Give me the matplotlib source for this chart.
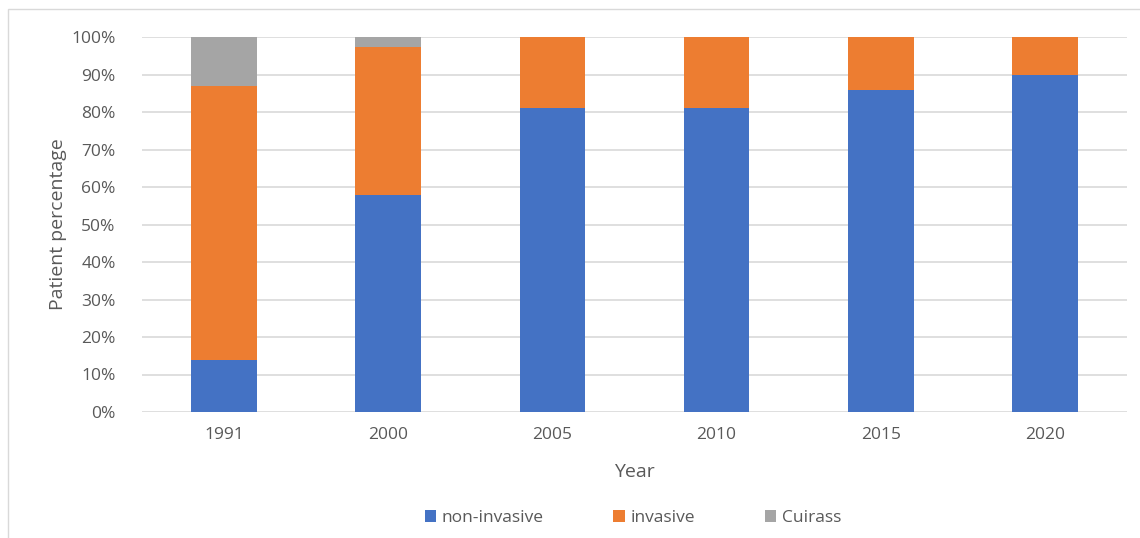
import matplotlib.pyplot as plt
import numpy as np
from matplotlib.patches import Rectangle

years = ['1991', '2000', '2005', '2010', '2015', '2020']
non_invasive = [14, 58, 81, 81, 86, 90]
invasive = [73, 39.4, 19, 19, 14, 10]
cuirass = [13, 2.6, 0, 0, 0, 0]

plt.rcParams['font.family'] = ['Open Sans', 'DejaVu Sans']
txt = '#595959'

fig = plt.figure(figsize=(11.4, 5.38), dpi=100)
ax = fig.add_axes([142 / 1140, 1 - 412 / 538, 985 / 1140, 375 / 538])

# outer chart border
fig.patches.append(Rectangle((8 / 1140, -0.01), 1.1, 1 - 9 / 538 + 0.01, transform=fig.transFigure,
                             fill=False, edgecolor='#d9d9d9', linewidth=1))

x = np.arange(len(years))
w = 0.4
ax.bar(x, non_invasive, w, color='#4472c4', label='non-invasive', zorder=3)
ax.bar(x, invasive, w, bottom=non_invasive, color='#ed7d31', label='invasive', zorder=3)
bottom2 = [a + b for a, b in zip(non_invasive, invasive)]
ax.bar(x, cuirass, w, bottom=bottom2, color='#a5a5a5', label='Cuirass', zorder=3)

ax.set_xlim(-0.5, len(years) - 0.5)
ax.set_ylim(0, 100)
ax.set_yticks(range(0, 101, 10))
ax.set_yticklabels([f'{v}%' for v in range(0, 101, 10)])
ax.set_xticks(x)
ax.set_xticklabels(years)
ax.grid(axis='y', color='#d9d9d9', linewidth=1.2, zorder=0)
for s in ax.spines.values():
    s.set_visible(False)
ax.tick_params(length=0, colors=txt, labelsize=12.5)
ax.tick_params(axis='y', pad=19)
ax.tick_params(axis='x', pad=11)
ax.set_xlabel('Year', color=txt, fontsize=14, labelpad=14)
ax.set_ylabel('Patient percentage', color=txt, fontsize=14, labelpad=3)

leg = fig.legend(loc='center', bbox_to_anchor=(633 / 1140, 1 - 518 / 538), ncol=3, frameon=False,
                 fontsize=12.5, handlelength=0.65, handleheight=0.65, columnspacing=4.0, handletextpad=0.35)
for t in leg.get_texts():
    t.set_color(txt)

fig.savefig('out.png', dpi=100)
